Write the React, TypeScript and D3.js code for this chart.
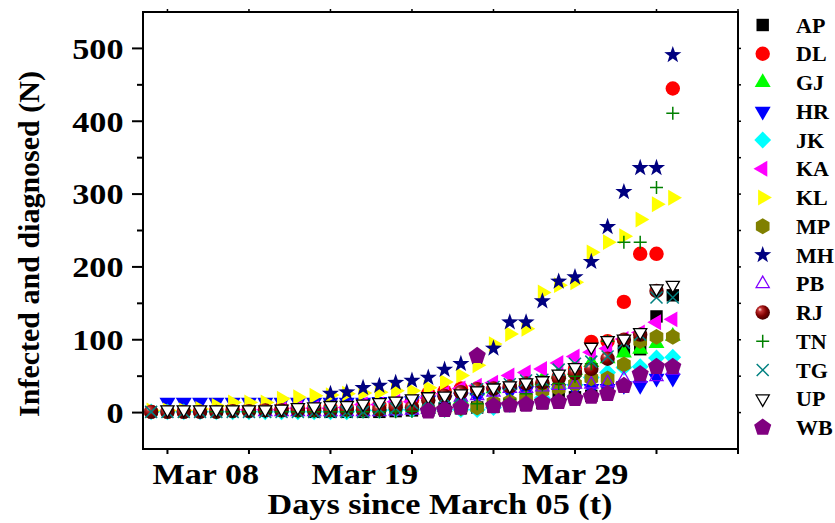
import React from "react";
import * as d3 from "d3";

// Day index t (days since March 05 axis units)
const days = [4, 5, 6, 7, 8, 9, 10, 11, 12, 13, 14, 15, 16, 17, 18, 19, 20, 21, 22, 23, 24, 25, 26, 27, 28, 29, 30, 31, 32, 33, 34, 35, 36];

const stateCodes = ["AP", "DL", "GJ", "HR", "JK", "KA", "KL", "MP", "MH", "PB", "RJ", "TN", "TG", "UP", "WB"];

const n = null;
const AP = [n, n, n, n, n, n, n, n, n, n, 1, 1, 1, 1, 1, 2, 3, 3, 5, 6, 7, 8, 10, 11, 13, 19, 21, 23, 40, 85, 87, 132, 161];
const DL = [1, 1, 1, 2, 3, 4, 4, 5, 6, 7, 7, 7, 7, 10, 10, 12, 17, 26, 29, 33, 33, 33, 35, 36, 39, 49, 60, 97, 98, 152, 218, 218, 445];
const GJ = [n, n, n, n, n, n, n, n, n, n, n, n, n, n, n, n, n, 5, 7, 18, 30, 33, 38, 43, 45, 53, 58, 69, 74, 82, 87, 95, 105];
const HR = [n, 14, 14, 14, 14, 14, 14, 14, 14, 14, 14, 14, 14, 14, 15, 15, 16, 17, 17, 21, 21, 28, 28, 30, 30, 33, 33, 33, 33, 37, 37, 47, 47];
const JK = [1, 1, 1, 1, 1, 1, 1, 1, 1, 1, 1, 1, 1, 3, 3, 4, 4, 4, 4, 4, 4, 7, 11, 13, 20, 33, 38, 48, 55, 62, 63, 75, 76];
const KA = [n, n, n, n, n, n, 4, 4, 4, 6, 6, 6, 7, 11, 11, 15, 15, 20, 26, 33, 37, 41, 51, 55, 60, 68, 77, 83, 88, 101, 110, 124, 128];
const KL = [3, 3, 3, 5, 9, 14, 14, 14, 19, 21, 23, 24, 26, 27, 28, 30, 30, 34, 42, 51, 65, 94, 108, 115, 165, 175, 179, 220, 234, 242, 265, 286, 295];
const MP = [n, n, n, n, n, n, n, n, n, n, n, n, n, n, n, n, n, 4, 4, 6, 7, 14, 15, 20, 30, 33, 39, 47, 47, 66, 98, 104, 104];
const MH = [n, n, n, n, n, n, n, n, n, n, n, 26, 28, 34, 37, 41, 44, 48, 59, 67, 76, 88, 124, 124, 153, 180, 186, 207, 255, 303, 336, 336, 491];
const PB = [n, n, n, n, n, n, n, 1, 1, 1, 1, 1, 1, 1, 1, 2, 3, 4, 7, 21, 23, 28, 33, 33, 35, 37, 39, 39, 41, 46, 47, 49, 58];
const RJ = [1, 1, 1, 1, 1, 2, 2, 3, 3, 3, 3, 3, 4, 4, 4, 7, 7, 17, 23, 28, 32, 33, 36, 40, 41, 47, 54, 60, 74, 100, 107, 167, n];
const TN = [n, n, n, n, 1, 1, 1, 1, 1, 1, 1, 1, 1, 1, 1, 1, 2, 3, 5, 5, 12, 15, 18, 26, 38, 40, 50, 67, 98, 234, 234, 309, 411];
const TG = [1, 1, 1, 1, 1, 1, 1, 1, 1, 1, 1, 1, 1, 1, 5, 6, 13, 17, 21, 22, 32, 35, 39, 44, 45, 59, 67, 70, 77, 96, 107, 158, 158];
const UP = [n, 4, 4, 4, 4, 4, 4, 4, 5, 7, 8, 10, 10, 12, 14, 16, 19, 22, 23, 26, 30, 34, 37, 41, 44, 53, 62, 90, 99, 101, 110, 170, 175];
const WB = [n, n, n, n, n, n, n, n, n, n, n, n, n, n, n, n, n, 2, 4, 7, 78, 9, 10, 11, 14, 15, 19, 22, 26, 37, 53, 63, 63];

const seriesValues = [AP, DL, GJ, HR, JK, KA, KL, MP, MH, PB, RJ, TN, TG, UP, WB];

const markerShapes = ["square", "circle", "triUp", "triDown", "diamond", "triLeft", "triRight", "hexagon", "star", "openTriUp", "sphere", "plus", "cross", "openTriDown", "pentagon"];
const markerColors = ["#000000", "#ff0000", "#00ff00", "#0000ff", "#00ffff", "#ff00ff", "#ffff00", "#808000", "#000080", "#8000ff", "#800000", "#008000", "#008080", "#000000", "#800080"];

const yMajorTicks = [0, 100, 200, 300, 400, 500];
const dateLabels = ["Mar 08", "Mar 19", "Mar 29"];
const dateLabelDays = [7.35, 17.1, 30];

const FONT = "'Liberation Serif', 'Times New Roman', serif";

function poly(k: number, r: number, startDeg: number): string {
  const pts: string[] = [];
  for (let i = 0; i < k; i++) {
    const a = ((startDeg + (360 * i) / k) * Math.PI) / 180;
    pts.push(`${(r * Math.cos(a)).toFixed(2)},${(r * Math.sin(a)).toFixed(2)}`);
  }
  return "M" + pts.join("L") + "Z";
}

function starPath(ro: number, ri: number): string {
  const pts: string[] = [];
  for (let i = 0; i < 10; i++) {
    const r = i % 2 === 0 ? ro : ri;
    const a = ((-90 + 36 * i) * Math.PI) / 180;
    pts.push(`${(r * Math.cos(a)).toFixed(2)},${(r * Math.sin(a)).toFixed(2)}`);
  }
  return "M" + pts.join("L") + "Z";
}

function Marker({ shape, color }: { shape: string; color: string }) {
  switch (shape) {
    case "square":
      return <rect x={-6.2} y={-6.2} width={12.4} height={12.4} fill={color} />;
    case "circle":
      return <circle r={7.2} fill={color} />;
    case "triUp":
      return <path d={poly(3, 9.2, -90)} fill={color} />;
    case "triDown":
      return <path d={poly(3, 9.2, 90)} fill={color} />;
    case "diamond":
      return <path d={poly(4, 8.4, -90)} fill={color} />;
    case "triLeft":
      return <path d={poly(3, 9.2, 180)} fill={color} />;
    case "triRight":
      return <path d={poly(3, 9.2, 0)} fill={color} />;
    case "hexagon":
      return <path d={poly(6, 7.9, -90)} fill={color} />;
    case "star":
      return <path d={starPath(9, 3.6)} fill={color} />;
    case "openTriUp":
      return <path d={poly(3, 7.6, -90)} fill="none" stroke={color} strokeWidth={1.3} />;
    case "sphere":
      return <circle r={7.2} fill="url(#rjGrad)" />;
    case "plus":
      return <path d="M-6.5,0H6.5M0,-6.5V6.5" stroke={color} strokeWidth={1.5} fill="none" />;
    case "cross":
      return <path d="M-6,-6L6,6M-6,6L6,-6" stroke={color} strokeWidth={1.5} fill="none" />;
    case "openTriDown":
      return <path d={poly(3, 7.6, 90)} fill="#ffffff" stroke={color} strokeWidth={1.3} />;
    case "pentagon":
      return <path d={poly(5, 9, -90)} fill={color} />;
    default:
      return null;
  }
}

export default function App() {
  const W = 835;
  const H = 523;
  const left = 143, right = 738, top = 12, bottom = 449;
  const x = d3.scaleLinear().domain([3.5, 40]).range([left, right]);
  const y = d3.scaleLinear().domain([-50, 550]).range([bottom, top]);
  const xTicks = x.ticks(8);
  const yAllTicks = d3.range(-50, 551, 50).filter((v) => y(v) > top + 1 && y(v) < bottom - 1);
  const sx = 1.14;

  return (
    <svg
      width={W}
      height={H}
      style={{ position: "absolute", left: 0, top: 0, background: "#fff" }}
      fontFamily={FONT}
    >
      <defs>
        <radialGradient id="rjGrad" cx="0.4" cy="0.4" r="0.65" fx="0.3" fy="0.28">
          <stop offset="0" stopColor="#ffe4e4" />
          <stop offset="0.22" stopColor="#c23434" />
          <stop offset="0.6" stopColor="#800000" />
          <stop offset="1" stopColor="#3c0000" />
        </radialGradient>
      </defs>
      <rect x={0} y={0} width={W} height={H} fill="#fff" />

      {/* data */}
      {seriesValues.map((vals, si) => (
        <g key={stateCodes[si]}>
          {vals.map((v, i) =>
            v === null ? null : (
              <g key={i} transform={`translate(${x(days[i])},${y(v)})`}>
                <Marker shape={markerShapes[si]} color={markerColors[si]} />
              </g>
            )
          )}
        </g>
      ))}

      {/* frame */}
      <rect x={left} y={top} width={right - left} height={bottom - top} fill="none" stroke="#000" strokeWidth={2} />

      {/* y ticks */}
      {yAllTicks.map((v) => {
        const major = yMajorTicks.includes(v);
        return (
          <g key={"yt" + v}>
            <line x1={left - (major ? 11 : 6)} x2={left} y1={y(v)} y2={y(v)} stroke="#000" strokeWidth={2} />
            <line x1={right} x2={right + 3} y1={y(v)} y2={y(v)} stroke="#000" strokeWidth={1.5} />
          </g>
        );
      })}
      {yMajorTicks.map((v) => (
        <text
          key={"yl" + v}
          transform={`translate(123.5,${y(v)}) scale(${sx},1)`}
          textAnchor="end"
          dominantBaseline="central"
          fontSize={30}
          fontWeight="bold"
        >
          {v}
        </text>
      ))}

      {/* x ticks */}
      {xTicks.map((t) => (
        <g key={"xt" + t}>
          <line x1={x(t)} x2={x(t)} y1={bottom} y2={bottom + 5} stroke="#000" strokeWidth={2} />
          <line x1={x(t)} x2={x(t)} y1={top} y2={top - 3} stroke="#000" strokeWidth={1.5} />
        </g>
      ))}
      {dateLabels.map((lab, i) => (
        <text
          key={lab}
          transform={`translate(${x(dateLabelDays[i])},483.5) scale(${sx},1)`}
          textAnchor="middle"
          fontSize={30}
          fontWeight="bold"
        >
          {lab}
        </text>
      ))}

      {/* axis titles */}
      <text transform={`translate(440,514) scale(${sx},1)`} textAnchor="middle" fontSize={30} fontWeight="bold">
        Days since March 05 (t)
      </text>
      <text transform={`translate(38.5,244) rotate(-90)`} textAnchor="middle" fontSize={30} fontWeight="bold">
        Infected and diagnosed (N)
      </text>

      {/* legend */}
      {stateCodes.map((code, i) => {
        const ly = 25 + i * 28.75;
        return (
          <g key={"lg" + code}>
            <g transform={`translate(762.7,${ly})`}>
              <Marker shape={markerShapes[i]} color={markerColors[i]} />
            </g>
            <text x={796} y={ly} dominantBaseline="central" fontSize={22} fontWeight="bold">
              {code}
            </text>
          </g>
        );
      })}
    </svg>
  );
}
